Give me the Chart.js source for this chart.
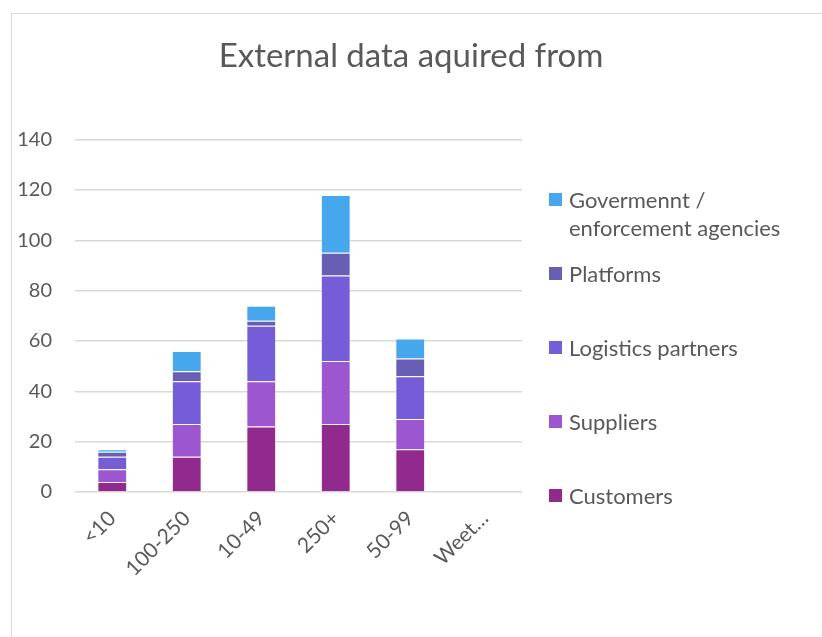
<!DOCTYPE html>
<html>
<head>
<meta charset="utf-8">
<script src="https://cdn.jsdelivr.net/npm/chart.js@4.4.1/dist/chart.umd.min.js"></script>
<style>
  html, body { margin: 0; padding: 0; background: #fff; }
  body { width: 822px; height: 637px; position: relative; overflow: hidden; font-family: Lato, "Open Sans", sans-serif; }
  .frame { position: absolute; left: 11px; top: 13px; width: 900px; height: 700px; border-left: 1px solid #d9d9d9; border-top: 1px solid #d9d9d9; }
  .wrap { position: absolute; left: 0; top: 0; width: 822px; height: 637px; }
  .legend { position: absolute; left: 549px; top: 186px; }
  .legend .item { display: flex; align-items: flex-start; height: 74px; }
  .legend .box { width: 13px; height: 13px; margin-top: 7px; margin-right: 7px; flex: none; }
  .legend .txt { color: #595959; font-size: 22px; line-height: 28px; width: 250px; }
</style>
</head>
<body>
<div class="frame"></div>
<div class="wrap"><canvas id="myChart" width="822" height="637"></canvas></div>
<div class="legend"></div>

<script>
const categories = ['<10', '100-250', '10-49', '250+', '50-99', 'Weet…'];

const customers = [4, 14, 26, 27, 17, 0];
const suppliers = [5, 13, 18, 25, 12, 0];
const logistics = [5, 17, 22, 34, 17, 0];
const platforms = [2, 4, 2, 9, 7, 0];
const government = [1, 8, 6, 23, 8, 0];

const seriesNames = ['Customers', 'Suppliers', 'Logistics partners', 'Platforms', 'Govermennt / enforcement agencies'];
const seriesColors = ['#912a8c', '#9b56d0', '#765dd8', '#685fb5', '#46a7ec'];

const yTicks = [0, 20, 40, 60, 80, 100, 120, 140];

const ctx = document.getElementById('myChart');
const grey = '#595959';

const datasets = [customers, suppliers, logistics, platforms, government].map((values, i) => {
    return {
        label: seriesNames[i],
        data: values,
        backgroundColor: seriesColors[i],
        borderColor: 'rgba(255,255,255,0.25)',
        borderWidth: 1,
        categoryPercentage: 0.8,
        barPercentage: 0.5
    }
})

new Chart(ctx, {
    type: 'bar',
    data: {
        labels: categories,
        datasets: datasets
    },
    options: {
        responsive: false,
        animation: false,
        plugins: {
            legend: { display: false },
            tooltip: { enabled: false },
            title: {
                display: true,
                text: 'External data aquired from',
                color: grey,
                font: { family: 'Lato', size: 33, weight: 'normal', lineHeight: 1.2 },
                padding: { top: 37, bottom: 63 }
            }
        },
        scales: {
            x: {
                stacked: true,
                grid: { display: false },
                border: { display: false },
                ticks: {
                    color: grey,
                    font: { family: 'Lato', size: 21 },
                    minRotation: 45,
                    maxRotation: 45,
                    padding: 6
                },
                afterFit: (scale) => { scale.height = 145; }
            },
            y: {
                stacked: true,
                min: 0,
                max: 140,
                afterBuildTicks: (scale) => {
                    scale.ticks = yTicks.map((v) => ({ value: v }));
                },
                grid: { color: '#d9d9d9', lineWidth: 1.5, drawTicks: false },
                border: { display: false },
                ticks: {
                    color: grey,
                    font: { family: 'Lato', size: 20 },
                    padding: 23
                },
                afterFit: (scale) => { scale.width = 75; }
            },
            // empty axis that keeps room on the right for the legend
            side: {
                position: 'right',
                display: true,
                grid: { display: false },
                border: { display: false },
                ticks: { display: false },
                afterFit: (scale) => { scale.width = 300; }
            }
        }
    }
});

// legend listed top-down, last series first
const legend = document.querySelector('.legend');
seriesNames.slice().reverse().forEach((name, idx) => {
    const i = seriesNames.length - 1 - idx;
    const item = document.createElement('div');
    item.className = 'item';
    const box = document.createElement('div');
    box.className = 'box';
    box.style.background = seriesColors[i];
    const txt = document.createElement('div');
    txt.className = 'txt';
    txt.textContent = name;
    item.appendChild(box);
    item.appendChild(txt);
    legend.appendChild(item);
})
</script>
</body>
</html>
